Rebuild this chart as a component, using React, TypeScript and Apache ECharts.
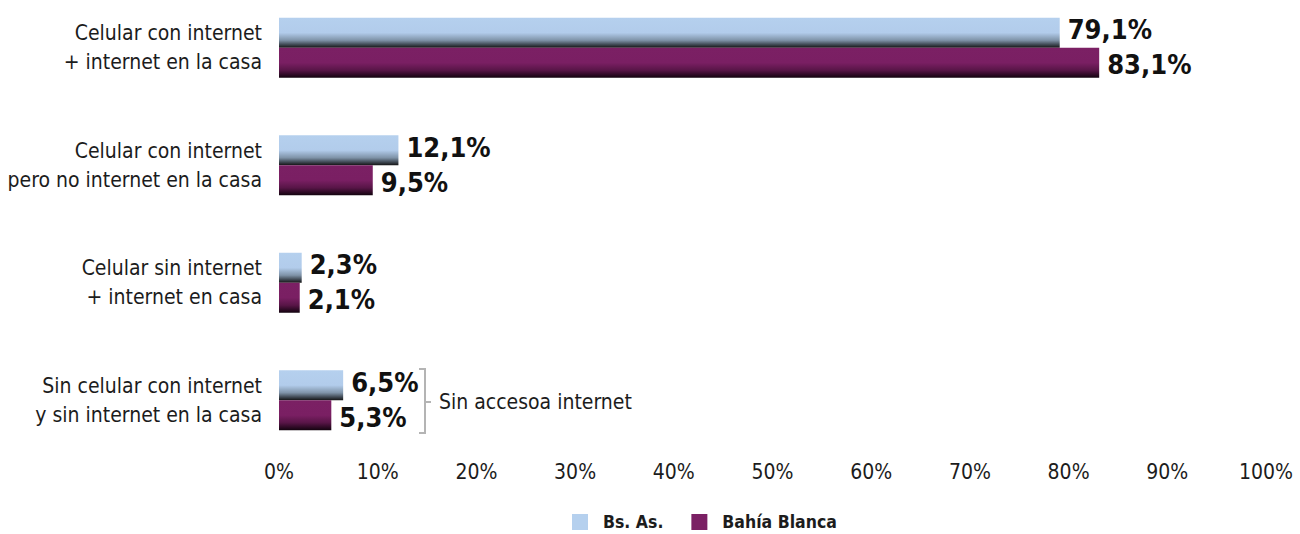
import React, { useEffect, useRef } from "react";
import * as echarts from "echarts";

const categories = [
  "Celular con internet\n+ internet en la casa",
  "Celular con internet\npero no internet en la casa",
  "Celular sin internet\n+ internet en casa",
  "Sin celular con internet\ny sin internet en la casa",
];
const seriesNames = ["Bs. As.", "Bahía Blanca"];
const bsAs = [79.1, 12.1, 2.3, 6.5];
const bahiaBlanca = [83.1, 9.5, 2.1, 5.3];
const xTicks = [0, 10, 20, 30, 40, 50, 60, 70, 80, 90, 100];
const bracketText = "Sin accesoa internet";

const FONT = "'DejaVu Sans Condensed', 'Liberation Sans Narrow', sans-serif";
const TEXT = "#1c1c1c";

const blueGrad = {
  type: "linear", x: 0, y: 0, x2: 0, y2: 1,
  colorStops: [
    { offset: 0, color: "#b5d0ee" },
    { offset: 0.5, color: "#b2cceb" },
    { offset: 0.75, color: "#7f93a8" },
    { offset: 0.9, color: "#3d4650" },
    { offset: 1, color: "#141414" },
  ],
};
const purpleGrad = {
  type: "linear", x: 0, y: 0, x2: 0, y2: 1,
  colorStops: [
    { offset: 0, color: "#7b2064" },
    { offset: 0.5, color: "#7a1f63" },
    { offset: 0.75, color: "#581547" },
    { offset: 0.9, color: "#2e0a25" },
    { offset: 1, color: "#12030e" },
  ],
};

const fmt = (v: number) => v.toFixed(1).replace(".", ",") + "%";

export default function App() {
  const ref = useRef<HTMLDivElement>(null);
  useEffect(() => {
    if (!ref.current) return;
    const chart = echarts.init(ref.current, null, { renderer: "svg" });
    const labelCfg = {
      show: true,
      position: "right",
      distance: 8,
      fontFamily: FONT,
      fontWeight: "bold",
      fontSize: 27,
      color: "#111",
      formatter: (p: any) => fmt(p.value),
    };
    chart.setOption({
      animation: false,
      backgroundColor: "#ffffff",
      grid: {
        left: 279,
        right: 34,
        top: -11,
        bottom: 75,
        containLabel: false,
        outerBoundsMode: "none",
      },
      xAxis: {
        type: "value",
        min: 0,
        max: 100,
        interval: 10,
        splitLine: { show: false },
        axisLine: { show: false },
        axisTick: { show: false },
        axisLabel: {
          fontFamily: FONT,
          fontSize: 21,
          color: TEXT,
          margin: 2,
          formatter: (v: number) => (xTicks.includes(v) ? v + "%" : ""),
        },
      },
      yAxis: {
        type: "category",
        inverse: true,
        data: categories,
        axisLine: { show: false },
        axisTick: { show: false },
        axisLabel: {
          fontFamily: FONT,
          fontSize: 21,
          lineHeight: 29,
          color: TEXT,
          margin: 17,
          align: "right",
          padding: [6, 0, 0, 0],
        },
      },
      legend: {
        left: 572,
        top: 513,
        padding: 0,
        itemWidth: 16,
        itemHeight: 16,
        itemGap: 28,
        icon: "rect",
        textStyle: {
          fontFamily: FONT,
          fontSize: 17.5,
          fontWeight: "bold",
          color: TEXT,
          padding: [0, 0, 0, 10],
        },
        data: [
          { name: seriesNames[0], itemStyle: { color: "#b5d0ee" } },
          { name: seriesNames[1], itemStyle: { color: "#7b2064" } },
        ],
      },
      series: [
        {
          name: seriesNames[0],
          type: "bar",
          data: bsAs,
          barWidth: 30,
          barGap: "0%",
          itemStyle: { color: blueGrad },
          label: { ...labelCfg, offset: [0, -3] },
        },
        {
          name: seriesNames[1],
          type: "bar",
          data: bahiaBlanca,
          barWidth: 30,
          itemStyle: { color: purpleGrad },
          label: { ...labelCfg, offset: [0, 2] },
        },
      ],
      graphic: [
        {
          type: "polyline",
          shape: { points: [[419, 369], [425, 369], [425, 433], [419, 433]] },
          style: { stroke: "#b4b4b4", lineWidth: 2, fill: "none" },
        },
        {
          type: "line",
          shape: { x1: 425, y1: 402, x2: 431, y2: 402 },
          style: { stroke: "#b4b4b4", lineWidth: 2 },
        },
        {
          type: "text",
          x: 439,
          y: 402,
          style: {
            text: bracketText,
            fontFamily: FONT,
            fontSize: 21,
            fill: TEXT,
            verticalAlign: "middle",
          },
        },
      ],
    });
    return () => chart.dispose();
  }, []);
  return (
    <div
      ref={ref}
      style={{ position: "fixed", left: 0, top: 0, width: 1300, height: 534 }}
    />
  );
}
